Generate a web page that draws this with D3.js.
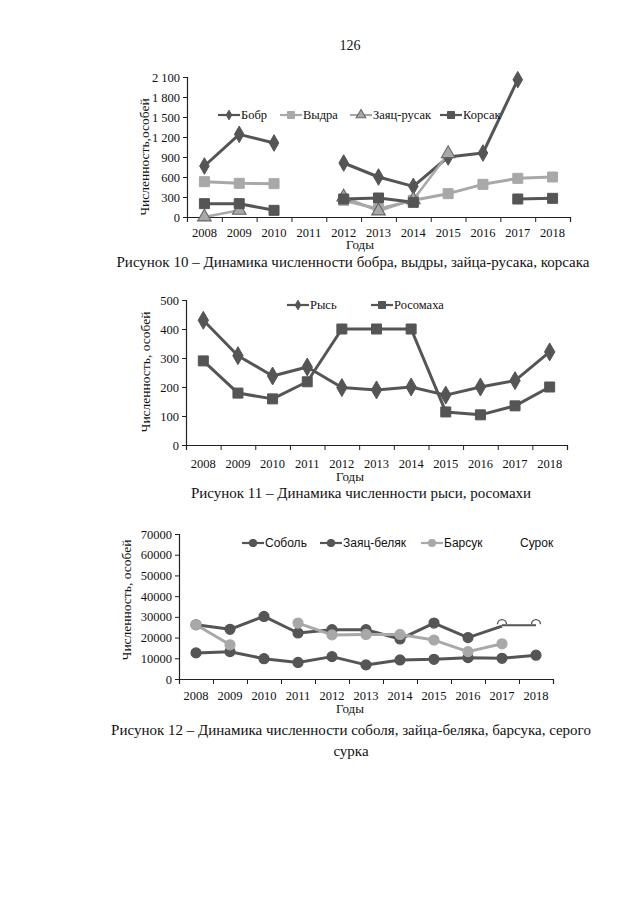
<!DOCTYPE html>
<html><head><meta charset="utf-8">
<script src="https://cdn.jsdelivr.net/npm/d3@7"></script>
<style>
body{margin:0;background:#fff}
svg text{font-family:"Liberation Serif","Times New Roman",serif;fill:#111}
.sans{font-family:"Liberation Sans",Arial,sans-serif !important}
</style>
</head><body>
<svg id="c" width="640" height="905"></svg>
<script>
const years = [2008,2009,2010,2011,2012,2013,2014,2015,2016,2017,2018];

// Chart 1
const ticks1 = [0,300,600,900,1200,1500,1800,2100];
const tickLabels1 = ["0","300","600","900","1 200","1 500","1 800","2 100"];
const bobr = [765,1240,1110,null,810,600,460,900,960,2060,null];
const vydra = [530,505,500,null,250,120,250,350,490,580,600];
const zayacRusak = [0,100,null,null,300,90,260,950,null,null,null];
const korsak = [200,200,100,null,270,285,220,null,null,270,280];

// Chart 2
const ticks2 = [0,100,200,300,400,500];
const rys = [430,308,238,269,198,190,200,172,200,222,321];
const rosomakha = [290,179,159,218,400,400,400,114,104,135,200];

// Chart 3
const ticks3 = [0,10000,20000,30000,40000,50000,60000,70000];
const sobol = [12600,13200,9800,8000,10800,6800,9200,9500,10300,10000,11500];
const zayacBelyak = [26200,24000,30200,22200,23800,23800,19300,27000,20000,25500,null];
const barsuk = [26200,16500,null,27000,21300,21500,21500,18800,13200,17000,null];
const surok = [null,null,null,null,null,null,null,null,null,26000,26000];

const DARK = "#555", LIGHT = "#a8a8a8";
const svg = d3.select("#c");

function marker(g, type, x, y, fill, stroke, s) {
  if (type === "diamond") {
    g.append("path").attr("d", d3.symbol(d3.symbolDiamond, s*s*0.55)())
      .attr("transform", `translate(${x},${y})`).attr("fill", fill).attr("stroke", stroke).attr("stroke-width", 1);
  } else if (type === "square") {
    g.append("path").attr("d", d3.symbol(d3.symbolSquare, s*s)())
      .attr("transform", `translate(${x},${y})`).attr("fill", fill).attr("stroke", stroke).attr("stroke-width", 1);
  } else if (type === "triangle") {
    g.append("path").attr("d", d3.symbol(d3.symbolTriangle, s*s*0.8)())
      .attr("transform", `translate(${x},${y})`).attr("fill", fill).attr("stroke", stroke).attr("stroke-width", 1.1);
  } else if (type === "circle") {
    g.append("circle").attr("cx", x).attr("cy", y).attr("r", s/2).attr("fill", fill).attr("stroke", stroke).attr("stroke-width", 1.2);
  } else if (type === "hollow") {
    g.append("path").attr("d", d3.arc()({innerRadius: 3.8, outerRadius: 5.2, startAngle: -Math.PI/2, endAngle: Math.PI/2}))
      .attr("transform", `translate(${x},${y - 1})`).attr("fill", stroke);
  }
}

function chart(cfg) {
  const g = svg.append("g");
  const x = d3.scaleBand().domain(years).range([cfg.x0, cfg.x1]).padding(0);
  const xe = d3.scaleLinear().domain([0, years.length]).range([cfg.x0, cfg.x1]);
  const y = d3.scaleLinear().domain([0, cfg.ymax]).range([cfg.yb, cfg.yt]);

  const ya = g.append("g").attr("transform", `translate(${cfg.x0},0)`)
    .call(d3.axisLeft(y).tickValues(cfg.ticks).tickSize(4).tickPadding(3)
      .tickFormat((d,i) => cfg.tickLabels ? cfg.tickLabels[i] : d));
  ya.select(".domain").attr("stroke", "#222").attr("stroke-width", 1.2);
  ya.selectAll(".tick line").attr("stroke", "#222");
  ya.selectAll("text").attr("font-size", 12.5).attr("font-family", "Liberation Serif").attr("fill", "#111");

  const xa = g.append("g").attr("transform", `translate(0,${cfg.yb})`)
    .call(d3.axisBottom(xe).tickValues(d3.range(0, years.length + 1)).tickSize(5).tickFormat(""));
  xa.select(".domain").attr("stroke", "#222").attr("stroke-width", 1.2);
  xa.selectAll(".tick line").attr("stroke", "#222");
  const xl = g.append("g").attr("transform", `translate(0,${cfg.yb})`)
    .call(d3.axisBottom(x).tickSize(0).tickPadding(cfg.xpad));
  xl.select(".domain").remove();
  xl.selectAll("text").attr("font-size", 12.5).attr("font-family", "Liberation Serif").attr("fill", "#111");

  g.append("text").attr("x", cfg.gx).attr("y", cfg.gy).attr("text-anchor", "middle")
    .attr("font-size", 13).text("Годы");
  g.append("text").attr("transform", `translate(${cfg.tx},${cfg.ty}) rotate(-90)`)
    .attr("text-anchor", "middle").attr("font-size", 13.5).text(cfg.ytitle);

  cfg.series.forEach(s => {
    const line = d3.line().defined(d => d != null)
      .x((d,i) => x(years[i]) + x.bandwidth()/2).y(d => y(d));
    g.append("path").datum(s.data).attr("d", line).attr("fill", "none")
      .attr("stroke", s.color).attr("stroke-width", s.width || 3).attr("stroke-linejoin", "round");
  });
  cfg.series.forEach(s => {
    s.data.forEach((d,i) => {
      if (d == null || (s.skip && s.skip.includes(i))) return;
      marker(g, s.marker, x(years[i]) + x.bandwidth()/2, y(d), s.fill || s.color, s.stroke || s.color, s.size || 10);
    });
  });

  cfg.series.forEach(s => {
    const L = s.legend;
    if (L.line) {
      g.append("line").attr("x1", L.x).attr("x2", L.x + 22).attr("y1", cfg.ly).attr("y2", cfg.ly)
        .attr("stroke", s.color).attr("stroke-width", 2.2);
      marker(g, s.marker, L.x + 11, cfg.ly, s.fill || s.color, s.stroke || s.color, 7);
    }
    g.append("text").attr("x", L.x + (L.line ? 23 : 0)).attr("y", cfg.ly).attr("dy", "0.35em")
      .attr("font-size", cfg.lfs).attr("class", cfg.lsans ? "sans" : null).text(s.name);
  });
  return g;
}

svg.append("text").attr("x", 350).attr("y", 50).attr("text-anchor", "middle").attr("font-size", 14).text("126");

chart({
  x0: 187, x1: 570, yb: 217, yt: 77, ymax: 2100, ticks: ticks1, tickLabels: tickLabels1,
  xpad: 11, gx: 360, gy: 249, tx: 149, ty: 157, ytitle: "Численность,особей",
  ly: 115, lfs: 12.5,
  series: [
    {name: "Бобр", data: bobr, color: DARK, marker: "diamond", size: 12, legend: {x: 218, line: true}},
    {name: "Выдра", data: vydra, color: LIGHT, marker: "square", size: 10, legend: {x: 280, line: true}},
    {name: "Заяц-русак", data: zayacRusak, color: LIGHT, marker: "triangle", fill: LIGHT, stroke: "#666", width: 2.5, size: 10, legend: {x: 350, line: true}},
    {name: "Корсак", data: korsak, color: DARK, marker: "square", size: 10, legend: {x: 440, line: true}}
  ]
});
svg.append("text").attr("x", 353).attr("y", 267).attr("text-anchor", "middle").attr("font-size", 15)
  .text("Рисунок 10 – Динамика численности бобра, выдры, зайца-русака, корсака");

chart({
  x0: 186, x1: 567, yb: 445, yt: 300, ymax: 500, ticks: ticks2,
  xpad: 14, gx: 350, gy: 481, tx: 150, ty: 372, ytitle: "Численность, особей",
  ly: 305, lfs: 12.5,
  series: [
    {name: "Рысь", data: rys, color: DARK, marker: "diamond", size: 13, legend: {x: 287, line: true}},
    {name: "Росомаха", data: rosomakha, color: DARK, marker: "square", size: 10, legend: {x: 371, line: true}}
  ]
});
svg.append("text").attr("x", 361).attr("y", 498).attr("text-anchor", "middle").attr("font-size", 15)
  .text("Рисунок 11 – Динамика численности рыси, росомахи");

chart({
  x0: 179, x1: 553, yb: 679, yt: 534, ymax: 70000, ticks: ticks3,
  xpad: 12, gx: 350, gy: 713, tx: 131, ty: 600, ytitle: "Численность, особей",
  ly: 543, lfs: 12, lsans: true,
  series: [
    {name: "Соболь", data: sobol, color: DARK, marker: "circle", size: 10, legend: {x: 242, line: true}},
    {name: "Заяц-беляк", data: zayacBelyak, color: DARK, marker: "circle", size: 10, skip: [9], legend: {x: 320, line: true}},
    {name: "Барсук", data: barsuk, color: LIGHT, marker: "circle", size: 10, legend: {x: 421, line: true}},
    {name: "Сурок", data: surok, color: DARK, marker: "hollow", fill: "#fff", width: 2, size: 10, legend: {x: 520, line: false}}
  ]
});
svg.append("text").attr("x", 351).attr("y", 735).attr("text-anchor", "middle").attr("font-size", 15)
  .text("Рисунок 12 – Динамика численности соболя, зайца-беляка, барсука, серого");
svg.append("text").attr("x", 351).attr("y", 756).attr("text-anchor", "middle").attr("font-size", 15)
  .text("сурка");
</script>
</body></html>
